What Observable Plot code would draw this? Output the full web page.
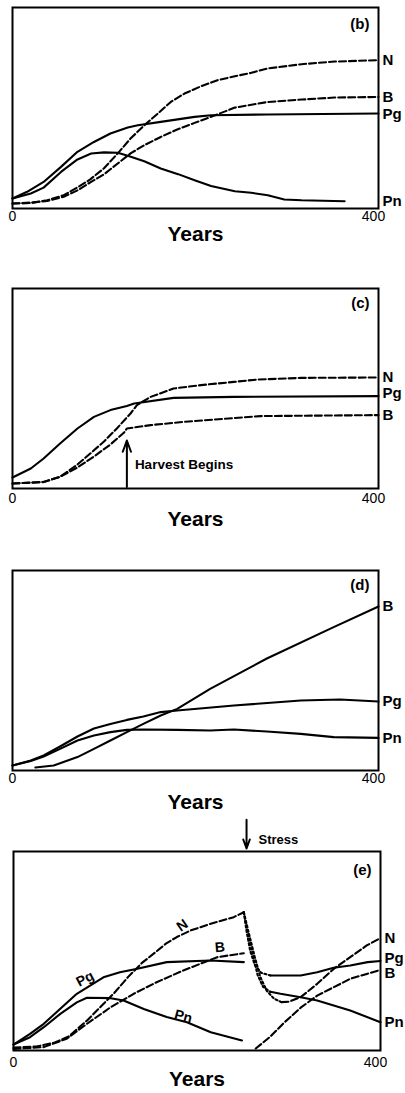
<!DOCTYPE html>
<html><head><meta charset="utf-8">
<script src="https://cdn.jsdelivr.net/npm/d3@7"></script>
<script src="https://cdn.jsdelivr.net/npm/@observablehq/plot@0.6"></script>
<style>
body{margin:0;background:#fff;}
#wrap{position:relative;width:405px;height:1093px;overflow:hidden;}
#wrap > div{position:absolute;left:0;}
</style></head><body><div id="wrap"></div>
<script>
// ---------- data: [year, value] (value in arbitrary units, 0-100 of panel height) ----------
// Panel (b)
const bN  = [[0,2.5],[20,2.8],[38,4.1],[56,6.6],[71,10.5],[85,14.5],[100,20],[115,27.4],[129,34.8],[144,41.4],[159,47.3],[173,53],[188,57.2],[206,60.8],[224,63.8],[243,65.8],[261,67.5],[279,69.7],[316,71.8],[352,73.1],[400,73.8]];
const bB  = [[0,2.5],[20,2.8],[38,3.8],[56,5.8],[71,9],[85,13],[100,17],[115,22.4],[129,27.4],[144,31.5],[162,35.6],[180,39.3],[199,42.6],[217,45.6],[243,50.2],[279,53],[316,54.2],[352,55.2],[400,55.5]];
const bPg = [[0,5],[16,8.3],[34,13.2],[53,20.7],[71,28.2],[89,33.1],[107,37.3],[126,40.3],[137,41.4],[162,43.1],[199,45.6],[217,46.4],[279,46.8],[400,47.3]];
const bPn = [[0,5],[20,7.5],[34,10.4],[53,18.2],[71,24.4],[86,27.4],[100,27.9],[115,27.7],[126,26.2],[144,23.5],[162,19.9],[181,17.1],[199,14.1],[217,11.2],[243,8.6],[261,7.8],[279,6.6],[297,4.5],[316,4.1],[363,3.6]];

// Panel (c)
const cN  = [[0,2.5],[34,3.3],[52,5.8],[71,12],[85,17.5],[100,23.5],[114,30],[129,37.5],[136,41.7],[151,45.8],[176,50],[206,51.7],[242,53.3],[268,54.5],[315,55.3],[400,55.5]];
const cPg = [[0,5.5],[20,10],[34,15],[52,22.5],[71,30],[89,35.8],[107,39.2],[125,41.3],[133,42.5],[176,45.3],[242,45.8],[400,46.2]];
const cB  = [[0,2.5],[34,3.2],[52,5.9],[71,10.5],[89,16],[107,22],[122,28],[125,30],[151,31.7],[187,33.3],[271,36.2],[400,36.7]];
const harvestYear = 125;

// Panel (d)
const dB  = [[25,1.5],[45,2.5],[71,6.7],[89,10.8],[107,15],[125,19.2],[143,23.3],[162,27.5],[180,30.8],[198,35.8],[216,40.8],[278,56],[351,71.7],[400,82]];
const dPg = [[0,2.5],[20,5],[34,7.5],[52,12],[71,17],[89,21],[107,23.3],[125,25.3],[143,27],[162,29.2],[180,30],[242,32.5],[315,35],[358,35.5],[400,34.5]];
const dPn = [[0,2.5],[20,4.7],[34,7],[52,10.8],[71,15],[89,17.5],[107,19.2],[125,20.3],[143,20.5],[180,20.3],[216,20],[242,20.5],[278,19.5],[315,18.3],[351,16.7],[400,16.3]];

// Panel (e)
const stressYear = 254;
const eN      = [[0,1.5],[25,2],[45,4],[60,7],[80,15],[95,22],[110,29],[125,37],[140,44],[155,49.5],[167,54],[178,57],[193,60.3],[215,63.7],[240,67],[251,69.5]];
const eB      = [[0,0.8],[33,1.7],[58,5.9],[80,13.4],[106,21.8],[131,28.5],[156,34.3],[185,40.2],[222,46.9],[251,48.9]];
const ePg     = [[0,3],[18,8.4],[33,13.4],[51,21],[69,28.5],[98,36.8],[116,39.3],[135,41.1],[167,44.4],[215,45.2],[251,44.4]];
const ePn     = [[0,3],[18,6.7],[33,11.7],[51,18.4],[69,24.2],[80,26.5],[106,26.3],[120,25.1],[142,20.9],[167,16.8],[189,14.2],[215,9.2],[249,5]];
const eNdrop  = [[251,69.5],[257,58],[263,47],[269,37],[276,30],[284,26],[292,24.3]];
const eNpost  = [[292,24.3],[300,24.5],[313,26.8],[331,33.5],[349,41],[367,46.9],[385,52.8],[400,56.5]];
const ePgDrop = [[251,69.5],[254,60],[258,50],[263,43],[270,39],[280,37.7]];
const ePgPost = [[280,37.7],[313,37.7],[331,39.3],[349,41.6],[367,42.7],[386,44.4],[400,45]];
const ePnDrop = [[251,69.5],[256,58],[261,48],[266,38],[272,32],[280,29.5]];
const ePnPost = [[280,29.5],[291,28.5],[313,26.8],[331,25.1],[349,22.6],[367,20.1],[400,14.2]];
const eBpost  = [[264,1],[280,7],[295,14],[313,21.5],[331,27.6],[349,31.8],[367,36],[385,38.5],[400,40.5]];
const eInline = [
  {name:"Pg", year:78,  value:36,   rotate:-28},
  {name:"N",  year:184, value:62.8, rotate:-35},
  {name:"B",  year:225, value:51.9, rotate:-5},
  {name:"Pn", year:185, value:17.1, rotate:15}
];

const xTicks = [0, 400];
const xLabel = "Years";

// ---------- drawing ----------
const FONT = '"Liberation Sans", Arial, Helvetica, sans-serif';
const DASH = "7,3";
const DOT = "2,2.5";
const series = (name, pts) => pts.map(([year, value]) => ({name, year, value}));

function panel(cfg) {
  const marks = [Plot.frame({stroke: "black", strokeWidth: 2})];
  for (const L of cfg.lines) {
    marks.push(Plot.line(series(L.name, L.pts), {
      x: "year", y: "value", stroke: "black", strokeWidth: 2.1,
      strokeDasharray: L.dash || null, strokeLinejoin: "round"
    }));
  }
  for (const L of cfg.endLabels) {
    marks.push(Plot.text([{name: L.name, value: L.pts[L.pts.length - 1][1]}], {
      y: "value", text: "name", frameAnchor: "right", textAnchor: "start",
      lineAnchor: "middle", dx: 4, dy: L.dy || 0, fontSize: 15, fontWeight: "bold", fill: "black"
    }));
  }
  marks.push(Plot.text([cfg.tag], {
    text: d => d, frameAnchor: "top-right", textAnchor: "end", lineAnchor: "middle",
    dx: -9, dy: cfg.tagDy, fontSize: 15, fontWeight: "bold", fill: "black"
  }));
  marks.push(Plot.axisX({ticks: [xTicks[0]], tickSize: 0, tickPadding: cfg.tickPad, fontSize: 14, label: null}));
  marks.push(Plot.axisX({ticks: [xTicks[1]], tickSize: 0, tickPadding: cfg.tickPad, fontSize: 14, label: null, dx: -5}));
  marks.push(Plot.text([xLabel], {
    text: d => d, frameAnchor: "bottom", lineAnchor: "middle", dy: cfg.yearsDy,
    fontSize: 21, fontWeight: "bold", fill: "black"
  }));
  if (cfg.extra) marks.push(...cfg.extra);
  const svg = Plot.plot({
    width: 405, height: cfg.height,
    marginTop: cfg.mt, marginBottom: cfg.mb, marginLeft: cfg.ml, marginRight: cfg.mr,
    x: {domain: [0, 400], axis: null},
    y: {domain: [0, 100], axis: null},
    style: {fontFamily: FONT, background: "white", color: "black", overflow: "visible"},
    marks
  });
  const div = document.createElement("div");
  div.style.top = cfg.top + "px";
  div.appendChild(svg);
  document.getElementById("wrap").appendChild(div);
}

// (b)
panel({
  top: 0, height: 250, mt: 7, mb: 42, ml: 12, mr: 27, tag: "(b)", tagDy: 17, yearsDy: 26, tickPad: 3,
  lines: [{name:"N", pts:bN, dash:DASH}, {name:"B", pts:bB, dash:DASH}, {name:"Pg", pts:bPg}, {name:"Pn", pts:bPn}],
  endLabels: [{name:"N", pts:bN}, {name:"B", pts:bB}, {name:"Pg", pts:bPg, dy:1}, {name:"Pn", pts:bPn}]
});

// (c)
panel({
  top: 250, height: 290, mt: 38, mb: 52, ml: 12, mr: 27, tag: "(c)", tagDy: 15, yearsDy: 31, tickPad: 5,
  lines: [{name:"N", pts:cN, dash:DASH}, {name:"Pg", pts:cPg}, {name:"B", pts:cB, dash:DASH}],
  endLabels: [{name:"N", pts:cN}, {name:"Pg", pts:cPg, dy:-3}, {name:"B", pts:cB}],
  extra: [
    Plot.arrow([{year: harvestYear, from: 0.8, to: 24}], {
      x1: "year", x2: "year", y1: "from", y2: "to", stroke: "black", strokeWidth: 2, headLength: 9, headAngle: 40
    }),
    Plot.text([{year: harvestYear, value: 12, label: "Harvest Begins"}], {
      x: "year", y: "value", text: "label", textAnchor: "start", dx: 8, fontSize: 13.5, fontWeight: "bold", fill: "black"
    })
  ]
});

// (d)
panel({
  top: 540, height: 272, mt: 30, mb: 42, ml: 12, mr: 27, tag: "(d)", tagDy: 15, yearsDy: 32, tickPad: 3,
  lines: [{name:"B", pts:dB}, {name:"Pg", pts:dPg}, {name:"Pn", pts:dPn}],
  endLabels: [{name:"B", pts:dB}, {name:"Pg", pts:dPg}, {name:"Pn", pts:dPn}]
});

// (e)
panel({
  top: 812, height: 281, mt: 39, mb: 43, ml: 13, mr: 25, tag: "(e)", tagDy: 19, yearsDy: 29, tickPad: 7,
  lines: [
    {name:"N", pts:eN, dash:DASH}, {name:"B", pts:eB, dash:DASH}, {name:"Pg", pts:ePg}, {name:"Pn", pts:ePn},
    {name:"N", pts:eNdrop, dash:DOT}, {name:"Pg", pts:ePgDrop, dash:DOT}, {name:"Pn", pts:ePnDrop, dash:DOT},
    {name:"N", pts:eNpost, dash:DASH}, {name:"Pg", pts:ePgPost}, {name:"Pn", pts:ePnPost}, {name:"B", pts:eBpost, dash:DASH}
  ],
  endLabels: [{name:"N", pts:eNpost}, {name:"Pg", pts:ePgPost, dy:-3}, {name:"B", pts:eBpost, dy:3}, {name:"Pn", pts:ePnPost}],
  extra: [
    Plot.text(eInline, {x: "year", y: "value", text: "name", rotate: "rotate", fontSize: 14, fontWeight: "bold", fill: "black"}),
    Plot.arrow([{year: stressYear, from: 116, to: 101.5}], {
      x1: "year", x2: "year", y1: "from", y2: "to", stroke: "black", strokeWidth: 2, headLength: 8, headAngle: 40
    }),
    Plot.text([{year: stressYear, value: 106, label: "Stress"}], {
      x: "year", y: "value", text: "label", textAnchor: "start", dx: 12, fontSize: 13, fontWeight: "bold", fill: "black"
    })
  ]
});
</script>
</body></html>
